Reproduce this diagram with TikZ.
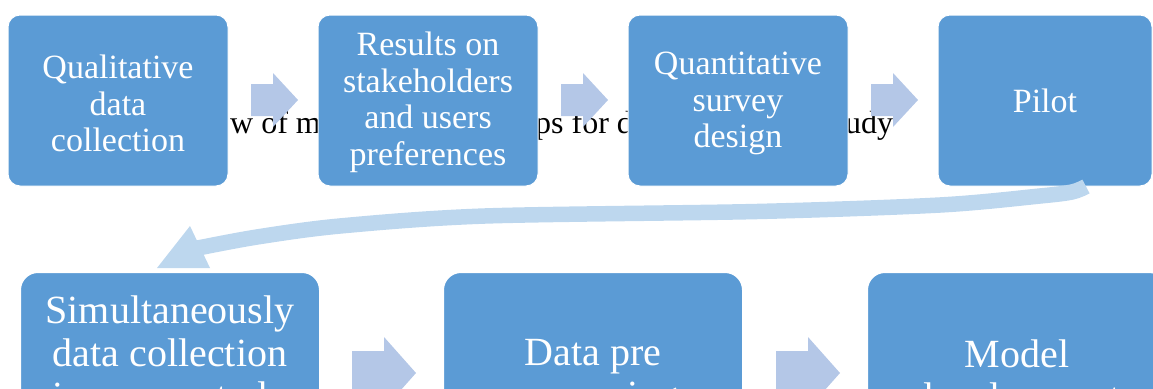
\documentclass[tikz,border=0pt]{standalone}
\usepackage{fontspec}
\setmainfont{Liberation Serif}
\definecolor{boxblue}{HTML}{5B9BD5}
\definecolor{chev}{HTML}{B4C7E7}
\definecolor{curv}{HTML}{BDD7EE}
\tikzset{
  topbox/.style={fill=boxblue, draw=white, line width=1pt, rounded corners=12pt,
    minimum width=220pt, minimum height=171pt, inner sep=0pt},
  toptext/.style={text=white, align=center, font=\fontsize{34}{36.5}\selectfont, inner sep=0pt},
  botbox/.style={fill=boxblue, draw=white, line width=2pt, rounded corners=18pt,
    minimum width=300pt, minimum height=210pt, inner sep=0pt},
  bottext/.style={text=white, align=center, font=\fontsize{40}{43}\selectfont,
    inner sep=0pt, anchor=north},
  captxt/.style={font=\fontsize{32}{36}\selectfont, anchor=base west, inner sep=0pt},
  pics/toparrow/.style={code={\fill[chev] (0,-16) -- (22,-16) -- (22,-27) -- (47,0) -- (22,27) -- (22,16) -- (0,16) -- cycle;}},
  pics/botarrow/.style={code={\fill[chev] (0,-22) -- (32,-22) -- (32,-36) -- (64,0) -- (32,36) -- (32,22) -- (0,22) -- cycle;}}
}
\begin{document}
\begin{tikzpicture}[x=1pt,y=-1pt]
\useasboundingbox (0,0) rectangle (1153,388);
\clip (0,0) rectangle (1153,388);
% caption fragments behind the boxes
\node[captxt] (cap1) at (230,133) {w of m};
\node[captxt] (cap2) at (535,133) {ps for d};
\node[captxt] (cap3) at (845,133) {udy};
% top row
\node[topbox] (b1) at (118,100.5) {};
\node[topbox] (b2) at (428,100.5) {};
\node[topbox] (b3) at (738,100.5) {};
\node[topbox, minimum width=214pt] (b4) at (1045,100.5) {};
\node[toptext] (t1) at ([yshift=-3pt]b1.center) {Qualitative\\data\\collection};
\node[toptext] (t2) at ([yshift=-2pt]b2.center) {Results on\\stakeholders\\and users\\preferences};
\node[toptext] (t3) at ([yshift=-3pt]b3.center) {Quantitative\\survey\\design};
\node[toptext] (t4) at (b4.center) {Pilot};
\pic at (251,100) {toparrow};
\pic at (561,100) {toparrow};
\pic at (871,100) {toparrow};
% curved connector from Pilot down to the second row
\coordinate (cs) at ([xshift=41pt]b4.south);
\coordinate (ce) at (198,248);
\draw[curv, line width=15.5pt, line join=round]
  plot[smooth, tension=0.5] coordinates {(cs) (1072,192) (1040,196) (940,205) (757,211.5) (485,216) (340,226) (257,237) (ce)};
\coordinate (h1) at (190,226);
\coordinate (h2) at (157,268);
\coordinate (h3) at (210,268);
\fill[curv] (h1) -- (h2) -- (h3) -- cycle;
% bottom row
\node[botbox] (b5) at (170,377) {};
\node[botbox] (b6) at (593,377) {};
\node[botbox] (b7) at (1017,377) {};
\node[bottext] (t5) at (170,296) {Simultaneously\\data collection\\in a case study};
\node[bottext] (t6) at (593,339) {Data pre\\processing};
\node[bottext] (t7) at (1017,340) {Model\\development};
\pic at (352,373) {botarrow};
\pic at (776,373) {botarrow};
\end{tikzpicture}
\end{document}
